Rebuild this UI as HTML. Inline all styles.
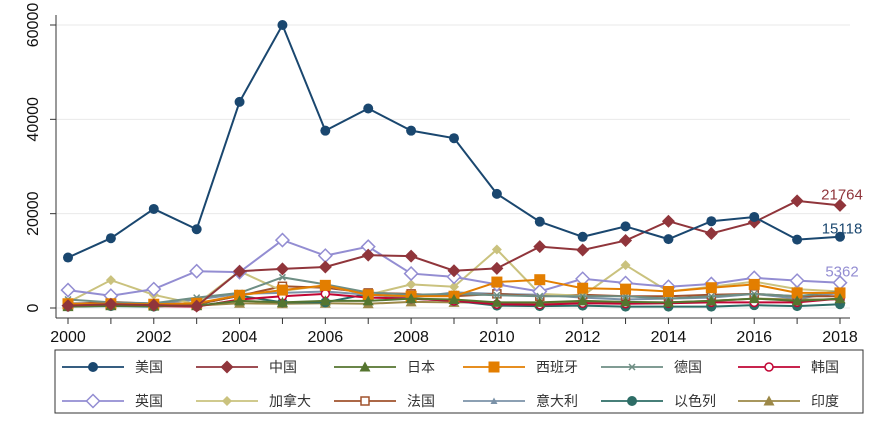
<!DOCTYPE html>
<html><head><meta charset="utf-8"><style>
body{margin:0;background:#fff;width:879px;height:434px;overflow:hidden;font-family:"Liberation Sans","Noto Sans CJK SC",sans-serif}
</style></head><body>
<svg id="c" width="879" height="434" xmlns="http://www.w3.org/2000/svg"></svg>
<script>
const years=[2000,2001,2002,2003,2004,2005,2006,2007,2008,2009,2010,2011,2012,2013,2014,2015,2016,2017,2018];
const yTicks=[0,20000,40000,60000];
const xTicks=[2000,2002,2004,2006,2008,2010,2012,2014,2016,2018];
const usa=[10700,14800,21000,16700,43700,60000,37600,42300,37600,36000,24200,18300,15100,17300,14600,18400,19300,14500,15118];
const china=[500,800,600,400,7800,8300,8700,11200,11000,7900,8400,13000,12300,14300,18400,15800,18200,22700,21764];
const japan=[300,500,400,500,1500,1200,1500,1500,2000,1800,1200,1200,1500,1300,1200,1500,2000,1500,2000];
const spain=[900,900,800,1000,2700,3800,4800,2800,2500,2500,5500,6000,4200,4000,3500,4300,5000,3200,3200];
const germany=[1800,1200,1000,2200,3200,6500,5000,3300,2800,3000,2700,2500,2500,2500,2000,2500,3000,2500,3500];
const korea=[600,600,400,300,1800,2500,3000,2200,2000,1500,800,700,1000,900,1000,1200,1200,1200,2000];
const uk=[3800,2600,4000,7800,7600,14400,11100,13000,7300,6600,5000,3500,6200,5300,4500,5100,6400,5800,5362];
const canada=[1200,5900,2800,800,7800,3600,4800,2800,5000,4500,12400,3000,2600,9100,3500,4500,5600,4000,3500];
const france=[800,1300,900,800,2600,4600,4300,3200,3000,2500,3000,2500,2800,2500,2500,2800,3000,2500,2500];
const italy=[1000,1000,800,1800,3000,3200,3500,2800,2200,3300,3000,2800,2200,1800,2000,2200,3000,2000,3200];
const israel=[300,400,300,800,2600,1200,1200,3000,2000,1500,500,400,500,300,300,300,600,400,800];
const india=[500,500,600,500,1000,900,1000,900,1300,1200,1200,1000,1200,1000,1200,1500,2000,1800,1800];
const series=[
["usa","美国",usa,"#1a476f","dot"],["china","中国",china,"#90353b","diamond"],["japan","日本",japan,"#55752f","tri"],
["spain","西班牙",spain,"#e37e00","square"],["germany","德国",germany,"#6e8e84","x"],["korea","韩国",korea,"#c10534","ocircle"],
["uk","英国",uk,"#938dd2","odiamond"],["canada","加拿大",canada,"#cac27e","sdiamond"],["france","法国",france,"#a0522d","osquare"],
["italy","意大利",italy,"#7b92a8","stri"],["israel","以色列",israel,"#2d6d66","dot"],["india","印度",india,"#9c8847","tri"]];
const svg=document.getElementById('c');const NS="http://www.w3.org/2000/svg";
function X(v){return 68+(v-2000)*(840-68)/18}
function Y(v){return 308-v*(308-25)/60000}
function el(t,a,p){const e=document.createElementNS(NS,t);for(const k in a)e.setAttribute(k,a[k]);(p||svg).appendChild(e);return e}
yTicks.forEach(t=>{const g=el('line',{x1:56,x2:850,y1:Y(t),y2:Y(t),stroke:'#eaeaea','stroke-width':1});

el('line',{x1:50,x2:56,y1:Y(t),y2:Y(t),stroke:'#333'});
const tx=el('text',{x:38,y:Y(t),'font-size':16,fill:'#111','text-anchor':'middle',transform:`rotate(-90 38 ${Y(t)})`});tx.textContent=t;
});
const ya=el('line',{x1:56,x2:56,y1:15,y2:318,stroke:'#333'});
const xa=el('line',{x1:56,x2:850,y1:318,y2:318,stroke:'#333'});
years.forEach(y=>el('line',{x1:X(y),x2:X(y),y1:318,y2:324,stroke:'#333'}));
xTicks.forEach(y=>{const t=el('text',{x:X(y),y:342,'font-size':16,fill:'#111','text-anchor':'middle'});t.textContent=y;
});
function marker(g,type,x,y,c){
 if(type=="dot")el('circle',{cx:x,cy:y,r:5,fill:c},g);
 else if(type=="diamond")el('polygon',{points:`${x},${y-6.5} ${x+6.5},${y} ${x},${y+6.5} ${x-6.5},${y}`,fill:c},g);
 else if(type=="sdiamond")el('polygon',{points:`${x},${y-5} ${x+5},${y} ${x},${y+5} ${x-5},${y}`,fill:c},g);
 else if(type=="odiamond")el('polygon',{points:`${x},${y-6.5} ${x+6.5},${y} ${x},${y+6.5} ${x-6.5},${y}`,fill:'#fff',stroke:c,'stroke-width':1.5},g);
 else if(type=="tri")el('polygon',{points:`${x},${y-5.5} ${x+5.5},${y+4.5} ${x-5.5},${y+4.5}`,fill:c},g);
 else if(type=="stri")el('polygon',{points:`${x},${y-3.5} ${x+3.5},${y+3} ${x-3.5},${y+3}`,fill:c},g);
 else if(type=="square")el('rect',{x:x-5.5,y:y-5.5,width:11,height:11,fill:c},g);
 else if(type=="osquare")el('rect',{x:x-4,y:y-4,width:8,height:8,fill:'#fff',stroke:c,'stroke-width':1.5},g);
 else if(type=="ocircle")el('circle',{cx:x,cy:y,r:4,fill:'#fff',stroke:c,'stroke-width':1.5},g);
 else if(type=="x"){el('line',{x1:x-3,y1:y-3,x2:x+3,y2:y+3,stroke:c,'stroke-width':1.5},g);el('line',{x1:x-3,y1:y+3,x2:x+3,y2:y-3,stroke:c,'stroke-width':1.5},g);}
}
[...series].reverse().forEach(s=>{const g=el('g',{});
 
 el('polyline',{points:s[2].map((v,i)=>X(years[i])+','+Y(v)).join(' '),fill:'none',stroke:s[3],'stroke-width':2},g);
 s[2].forEach((v,i)=>marker(g,s[4],X(years[i]),Y(v),s[3]));});
[[china,"#90353b","china"],[usa,"#1a476f","usa"],[uk,"#938dd2","uk"]].forEach((a,k)=>{const v=a[0][18];
 const t=el('text',{x:842,y:Y(v)+(k==0?-6:k==1?-3:-6),'font-size':15,fill:a[1],'text-anchor':'middle'});
 t.textContent=v;});
const lg=el('g',{});
el('rect',{x:55,y:350,width:808,height:63,fill:'#fff',stroke:'#333','stroke-width':1},lg);
const colX=[62,196,334,463,601,738];
series.forEach((s,i)=>{const r=Math.floor(i/6),c=i%6;const y=367+r*34,x=colX[c];
 const g=el('g',{},lg);
 el('line',{x1:x,x2:x+62,y1:y,y2:y,stroke:s[3],'stroke-width':1.8},g);marker(g,s[4],x+31,y,s[3]);
 const t=el('text',{x:x+73,y:y+5,'font-size':14,fill:'#333'},g);t.textContent=s[1];});
</script>
</body></html>
